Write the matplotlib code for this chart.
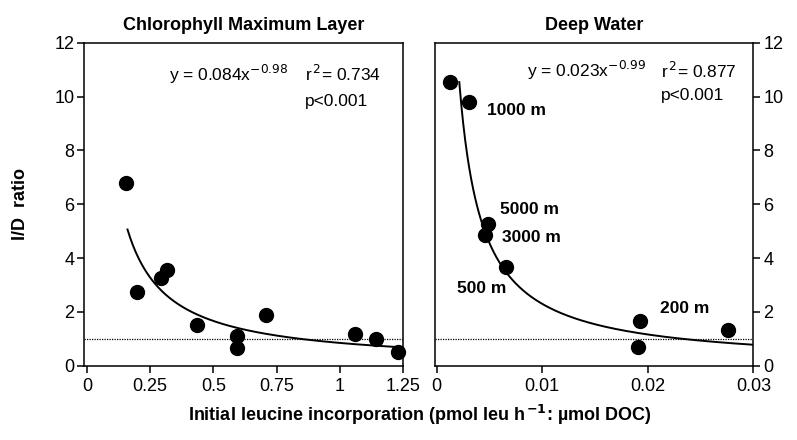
import matplotlib.pyplot as plt
import numpy as np

plt.rcParams['font.family'] = ['Liberation Sans', 'DejaVu Sans']

# Chlorophyll maximum layer
chl_x = [0.156, 0.199, 0.293, 0.318, 0.434, 0.595, 0.592, 0.708, 1.061, 1.143, 1.231]
chl_y = [6.79, 2.72, 3.26, 3.54, 1.52, 1.11, 0.66, 1.88, 1.19, 1.0, 0.49]
chl_fit = (0.84, -0.98)
chl_fit_range = (0.16, 1.25)

# Deep water
deep_x = [0.00126, 0.00303, 0.00486, 0.00458, 0.0066, 0.0193, 0.0191, 0.0276]
deep_y = [10.55, 9.82, 5.28, 4.84, 3.66, 1.67, 0.70, 1.32]
deep_fit = (0.024, -0.99)
deep_fit_range = (0.00214, 0.03)
depth_labels = ['1000 m', '5000 m', '3000 m', '500 m', '200 m']
depth_label_x = [0.00477, 0.00603, 0.00619, 0.00189, 0.0211]
depth_label_y = [9.5, 5.8, 4.76, 2.85, 2.13]

left_ticks = [0, 0.25, 0.5, 0.75, 1, 1.25]
left_ticklabels = ['0', '0.25', '0.5', '0.75', '1', '1.25']
right_ticks = [0, 0.01, 0.02, 0.03]
right_ticklabels = ['0', '0.01', '0.02', '0.03']
y_ticks = [0, 2, 4, 6, 8, 10, 12]

fig = plt.figure(figsize=(7.97, 4.40), dpi=100)
ax1 = fig.add_axes([0.1054, 0.1693, 0.4003, 0.733])
ax2 = fig.add_axes([0.5458, 0.1693, 0.3996, 0.733])

for ax in (ax1, ax2):
    for s in ax.spines.values():
        s.set_linewidth(1.1)
    ax.set_ylim(0, 12)
    ax.set_yticks(y_ticks)
    ax.tick_params(direction='out', length=5, width=1.1, labelsize=13, pad=2)
    ax.axhline(1, color='black', linestyle=(0, (1, 1)), linewidth=0.9)

# left panel
ax1.set_xlim(-0.012, 1.25)
ax1.set_xticks(left_ticks)
ax1.set_xticklabels(left_ticklabels)
ax1.tick_params(axis='x', pad=4)
ax1.plot(chl_x, chl_y, 'o', color='black', markersize=10, clip_on=False, zorder=3)
xf = np.linspace(chl_fit_range[0], chl_fit_range[1], 200)
ax1.plot(xf, chl_fit[0] * xf ** chl_fit[1], color='black', linewidth=1.4)
ax1.text(0.324, 10.84, 'y = 0.084x$^{-0.98}$', fontsize=12.5, va='center')
ax1.text(0.862, 10.84, 'r$^{\\,2}$= 0.734', fontsize=12.5, va='center')
ax1.text(0.862, 9.83, 'p<0.001', fontsize=12.5, va='center')
ax1.set_title('Chlorophyll Maximum Layer', fontsize=13, fontweight='bold', pad=9)
ax1.set_ylabel('I/D  ratio', fontsize=13, fontweight='bold', labelpad=18)

# right panel
ax2.set_xlim(-0.00016, 0.03)
ax2.set_xticks(right_ticks)
ax2.set_xticklabels(right_ticklabels)
ax2.tick_params(axis='x', pad=4)
ax2.yaxis.tick_right()
ax2.plot(deep_x, deep_y, 'o', color='black', markersize=10, clip_on=False, zorder=3)
xf = np.linspace(deep_fit_range[0], deep_fit_range[1], 300)
ax2.plot(xf, deep_fit[0] * xf ** deep_fit[1], color='black', linewidth=1.4)
for lab, lx, ly in zip(depth_labels, depth_label_x, depth_label_y):
    ax2.text(lx, ly, lab, fontsize=12.5, fontweight='bold', va='center')
ax2.text(0.00856, 10.96, 'y = 0.023x$^{-0.99}$', fontsize=12.5, va='center')
ax2.text(0.0212, 10.96, 'r$^{\\,2}$= 0.877', fontsize=12.5, va='center')
ax2.text(0.0212, 10.03, 'p<0.001', fontsize=12.5, va='center')
ax2.set_title('Deep Water', fontsize=13, fontweight='bold', pad=9)

fig.text(0.527, 0.057, 'Initial leucine incorporation (pmol leu h$^{\\,\\mathbf{-1}}$: µmol DOC)',
         fontsize=13, fontweight='bold', ha='center', va='center')

fig.savefig('out.png', dpi=100)
